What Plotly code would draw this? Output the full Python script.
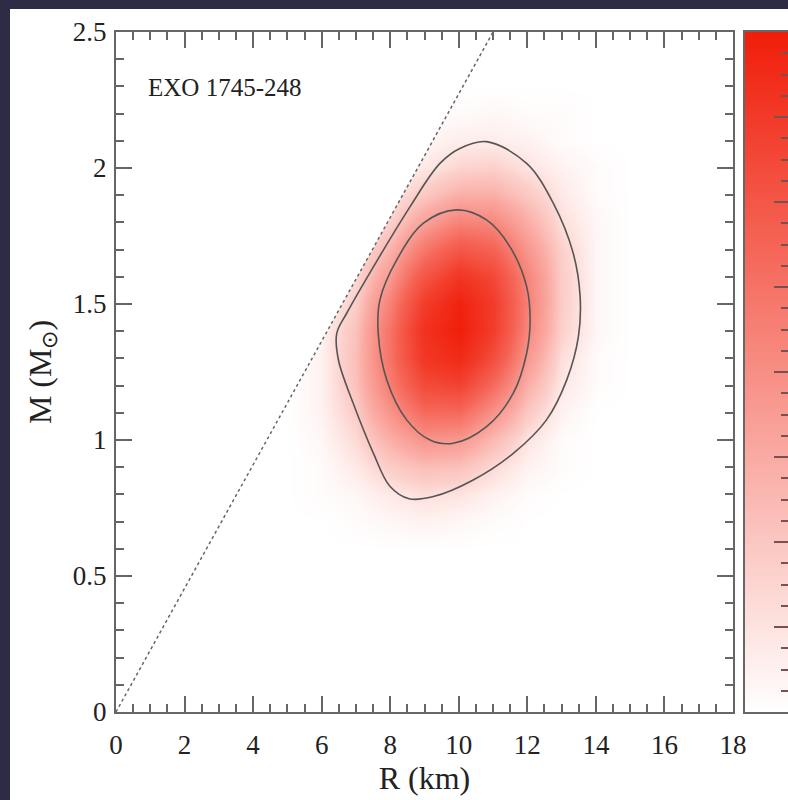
import plotly.graph_objects as go

# ---- data ----
r_grid = [5, 6, 7, 8, 9, 10, 11, 12, 13, 14, 15]
m_grid = [0.6, 0.7, 0.8, 0.9, 1.0, 1.1, 1.2, 1.3, 1.4, 1.5, 1.6, 1.7, 1.8, 1.9, 2.0, 2.1, 2.2, 2.3]
density = [
    [0, 0, 0, 0, 0, 0, 0, 0, 0, 0, 0],
    [0, 0, 1, 2, 3, 2, 1, 0, 0, 0, 0],
    [0, 1, 2, 5, 7, 6, 3, 1, 0, 0, 0],
    [0, 1, 5, 11, 15, 14, 8, 3, 1, 0, 0],
    [0, 2, 8, 19, 29, 27, 16, 6, 1, 0, 0],
    [0, 3, 11, 29, 47, 47, 29, 12, 3, 0, 0],
    [0, 3, 14, 38, 65, 70, 46, 19, 5, 1, 0],
    [0, 3, 15, 43, 79, 89, 63, 27, 7, 1, 0],
    [0, 3, 14, 43, 83, 99, 74, 34, 10, 2, 0],
    [0, 2, 11, 37, 75, 96, 75, 37, 11, 2, 0],
    [0, 1, 8, 27, 59, 80, 67, 35, 11, 2, 0],
    [0, 1, 5, 18, 41, 58, 51, 28, 10, 2, 0],
    [0, 0, 3, 10, 24, 36, 34, 20, 7, 2, 0],
    [0, 0, 1, 5, 12, 19, 19, 12, 5, 1, 0],
    [0, 0, 0, 2, 5, 9, 10, 6, 3, 1, 0],
    [0, 0, 0, 1, 2, 4, 4, 3, 1, 0, 0],
    [0, 0, 0, 0, 1, 1, 2, 1, 1, 0, 0],
    [0, 0, 0, 0, 0, 0, 0, 0, 0, 0, 0],
]

outer_r = [10.81, 11.98, 12.76, 13.34, 13.54, 13.49, 13.15, 12.56, 11.59, 10.42, 9.26, 8.55,
           7.99, 7.51, 6.92, 6.49, 6.44, 6.73, 8.58, 9.45, 10.03, 10.81]
outer_m = [2.097, 2.017, 1.870, 1.686, 1.527, 1.380, 1.221, 1.074, 0.951, 0.853, 0.792, 0.784,
           0.830, 0.951, 1.135, 1.294, 1.392, 1.466, 1.858, 2.017, 2.072, 2.097]

inner_r = [9.94, 10.81, 11.49, 11.98, 12.08, 11.98, 11.59, 10.81, 9.84, 9.16, 8.48, 7.90,
           7.65, 7.70, 8.19, 8.97, 9.94]
inner_m = [1.846, 1.809, 1.711, 1.564, 1.441, 1.319, 1.172, 1.049, 0.988, 1.000, 1.074, 1.221,
           1.392, 1.515, 1.662, 1.797, 1.846]

causal_r = [0.0, 11.0]
causal_m = [0.0, 2.5]

x_ticks = [0, 2, 4, 6, 8, 10, 12, 14, 16, 18]
y_ticks = [0, 0.5, 1, 1.5, 2, 2.5]
y_ticktext = ["0", "0.5", "1", "1.5", "2", "2.5"]
cbar_levels = [0, 100]
cbar_ticks = [0, 12.5, 25, 37.5, 50, 62.5, 75, 87.5, 100]

label_text = "EXO 1745-248"

# ---- styling ----
SERIF = "Liberation Serif, Times New Roman, serif"
AXC = "#666666"
TXT = "#222222"

heat_scale = [
    [0.0, "rgb(255,255,255)"],
    [0.02, "rgb(254,247,246)"],
    [0.05, "rgb(254,233,230)"],
    [0.10, "rgb(252,208,203)"],
    [0.20, "rgb(250,172,165)"],
    [0.35, "rgb(247,133,122)"],
    [0.50, "rgb(245,100,86)"],
    [0.75, "rgb(242,60,42)"],
    [1.0, "rgb(240,30,10)"],
]
bar_scale = [[0.0, "rgb(255,255,255)"], [1.0, "rgb(240,30,10)"]]

fig = go.Figure()

fig.add_trace(go.Heatmap(
    x=r_grid, y=m_grid, z=density, zsmooth="best", colorscale=heat_scale,
    zmin=0, zmax=100, showscale=False, hoverinfo="skip", xaxis="x", yaxis="y"))

# white region beyond the causality line
fig.add_trace(go.Scatter(
    x=[causal_r[0], causal_r[1], causal_r[0], causal_r[0]],
    y=[causal_m[0], causal_m[1], causal_m[1], causal_m[0]],
    fill="toself", fillcolor="white", mode="lines", line=dict(width=0),
    hoverinfo="skip", xaxis="x", yaxis="y"))

fig.add_trace(go.Scatter(
    x=outer_r, y=outer_m, mode="lines",
    line=dict(color="#555555", width=1.6, shape="spline", smoothing=1.0),
    xaxis="x", yaxis="y"))
fig.add_trace(go.Scatter(
    x=inner_r, y=inner_m, mode="lines",
    line=dict(color="#555555", width=1.6, shape="spline", smoothing=1.0),
    xaxis="x", yaxis="y"))
fig.add_trace(go.Scatter(
    x=causal_r, y=causal_m, mode="lines",
    line=dict(color="#666666", width=1.5, dash="dot"),
    xaxis="x", yaxis="y"))

# colour bar as its own small panel
fig.add_trace(go.Heatmap(
    x=[0, 1], y=cbar_levels, z=[[v, v] for v in cbar_levels], zsmooth="best",
    colorscale=bar_scale, zmin=0, zmax=100, showscale=False, hoverinfo="skip",
    xaxis="x2", yaxis="y2"))

W, H = 788, 800
L, R, T, B = 116, 0, 32, 88
pw = W - L - R
ph = H - T - B

fig.update_layout(
    width=W, height=H,
    margin=dict(l=L, r=R, t=T, b=B, autoexpand=False),
    paper_bgcolor="#2e2c45",
    plot_bgcolor="white",
    showlegend=False,
    font=dict(family=SERIF, color=TXT),
    xaxis=dict(
        domain=[0, (733 - L) / pw], range=[0, 18], anchor="y", automargin=False,
        tickmode="array", tickvals=x_ticks,
        ticks="inside", ticklen=16, tickwidth=1.5, tickcolor=AXC,
        minor=dict(ticks="inside", ticklen=8, dtick=0.5, tick0=0, tickwidth=1.5,
                   tickcolor=AXC, showgrid=False),
        showline=True, linecolor=AXC, linewidth=2, mirror="ticks",
        showgrid=False, zeroline=False, ticklabelstandoff=8,
        tickfont=dict(family=SERIF, size=27, color=TXT),
        title=dict(text="R (km)", font=dict(family=SERIF, size=32, color=TXT), standoff=4),
    ),
    yaxis=dict(
        domain=[0, 1], range=[0, 2.5], anchor="x", automargin=False,
        tickmode="array", tickvals=y_ticks, ticktext=y_ticktext,
        ticks="inside", ticklen=16, tickwidth=1.5, tickcolor=AXC,
        minor=dict(ticks="inside", ticklen=8, dtick=0.1, tick0=0, tickwidth=1.5,
                   tickcolor=AXC, showgrid=False),
        showline=True, linecolor=AXC, linewidth=2, mirror="ticks",
        showgrid=False, zeroline=False, ticklabelstandoff=2,
        tickfont=dict(family=SERIF, size=27, color=TXT),
        title=dict(text="M (M<sub>⊙</sub>)", font=dict(family=SERIF, size=32, color=TXT),
                   standoff=12),
    ),
    xaxis2=dict(
        domain=[(745 - L) / pw, 1], range=[0, 1], anchor="y2", automargin=False,
        showticklabels=False, ticks="", showline=True, linecolor=AXC, linewidth=2,
        mirror=True, showgrid=False, zeroline=False,
    ),
    yaxis2=dict(
        domain=[0, 1], range=[0, 100], anchor="x2", side="right", automargin=False,
        tickmode="array", tickvals=cbar_ticks, showticklabels=False,
        ticks="inside", ticklen=14, tickwidth=1.5, tickcolor="#7a5050",
        minor=dict(ticks="inside", ticklen=7, dtick=3.125, tick0=0, tickwidth=1.5,
                   tickcolor="#7a5050", showgrid=False),
        showline=True, linecolor=AXC, linewidth=2, mirror=True,
        showgrid=False, zeroline=False,
    ),
    shapes=[dict(
        type="rect", xref="paper", yref="paper", layer="below",
        x0=(10 - L) / pw, x1=1.05, y0=-(B + 5) / ph, y1=(H - B - 9) / ph,
        fillcolor="white", line=dict(width=0),
    )],
    annotations=[dict(
        text=label_text, x=0.88, y=2.295, xref="x", yref="y",
        xanchor="left", yanchor="middle", showarrow=False,
        font=dict(family=SERIF, size=25, color=TXT),
    )],
)

fig.write_html("out.html")
